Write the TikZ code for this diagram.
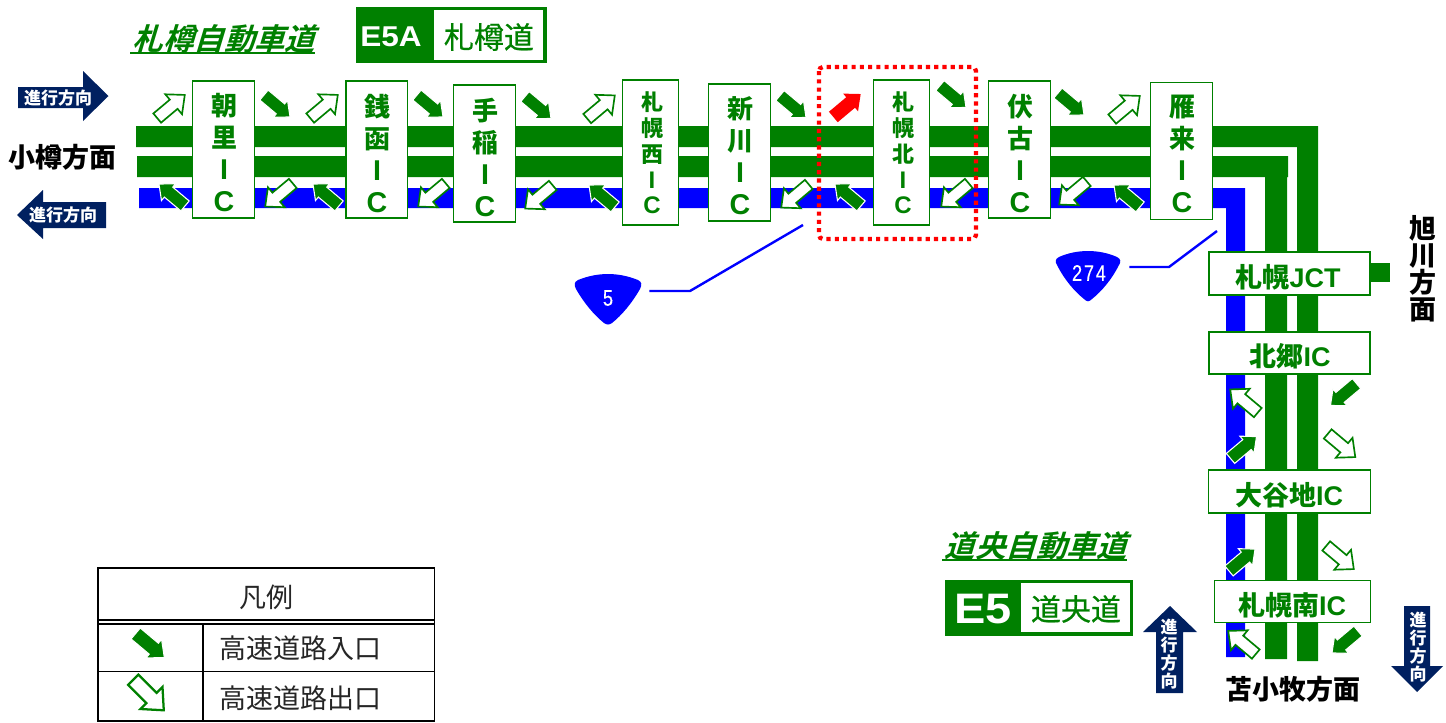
\documentclass[tikz,border=0pt]{standalone}
\usepackage{fontspec}
\usepackage{xcolor}
\setmainfont{Noto Sans CJK JP}
\newfontfamily\lsans{Liberation Sans}
\newfontface\lwide[FakeStretch=1.1]{Liberation Sans Bold}
\newfontface\lnarrow[FakeStretch=0.8,LetterSpace=8,FakeBold=0.3]{Liberation Sans}
\newfontface\jpslant[FakeSlant=0.3]{Noto Sans CJK JP Bold}
\newfontface\jpmed[FakeBold=0.5]{Noto Sans CJK JP}
\definecolor{roadg}{HTML}{008000}
\definecolor{roadb}{HTML}{0000FF}
\definecolor{navy}{HTML}{002060}
\newcommand{\icl}[1]{{\lsans\bfseries\fontsize{21.5}{24}\selectfont #1}}
\newcommand{\ics}[1]{{\lsans\bfseries\fontsize{18}{19.3}\selectfont #1}}
\newcommand{\ich}[1]{{\lsans\bfseries #1}}
\tikzset{
  icbox/.style={draw=roadg,fill=white,line width=1pt,inner sep=0pt},
  ictext/.style={text=roadg,align=center,inner sep=0pt,font=\bfseries\fontsize{19.5}{24}\selectfont},
  ictexts/.style={text=roadg,align=center,inner sep=0pt,font=\bfseries\fontsize{16.5}{19.3}\selectfont},
  ictexth/.style={text=roadg,inner sep=0pt,font=\bfseries\fontsize{20.25}{24}\selectfont},
  placetext/.style={text=black,align=center,inner sep=0pt,font=\bfseries\fontsize{20.25}{20.25}\selectfont},
  dirtext/.style={text=white,align=center,inner sep=0pt,font=\bfseries\fontsize{12.75}{13.5}\selectfont},
  titletext/.style={text=roadg,inner sep=0pt,font=\jpslant\fontsize{22.8}{24}\selectfont},
  signtext/.style={text=roadg,inner sep=0pt,font=\jpmed\fontsize{22.5}{24}\selectfont},
  legendtext/.style={text=black!85,inner sep=0pt,font=\fontsize{20.25}{24}\selectfont},
  routetext/.style={text=white,inner sep=0pt,font=\lnarrow\fontsize{17}{20}\selectfont},
  leader/.style={draw=roadb,line width=1.8pt},
  inarrow/.style={fill=roadg,draw=white,line width=0.8pt},
  outarrow/.style={fill=white,draw=roadg,line width=1.25pt},
  redarrow/.style={fill=red},
  pics/inshape/.style={code={
    \path[pic actions] (-17,-6.5) -- (4.5,-6.5) -- (4.5,-11) -- (17,0) -- (4.5,11) -- (4.5,6.5) -- (-17,6.5) -- cycle;
  }},
  pics/outshape/.style={code={
    \path[pic actions] (-18,-6) -- (3.5,-6) -- (3.5,-13) -- (18,0) -- (3.5,13) -- (3.5,6) -- (-18,6) -- cycle;
  }}
}
\begin{document}
\begin{tikzpicture}[x=0.75pt,y=0.75pt,yscale=-1,xscale=1]
\useasboundingbox (0,0) rectangle (1446,722);

\fill[roadg] (136,126) -- (1318,126) -- (1318,661) -- (1297,661) -- (1297,147) -- (136,147) -- cycle;
\fill[roadg] (137,156) -- (1288,156) -- (1288,177) -- (1287,177) -- (1287,659) -- (1265,659) -- (1265,177) -- (137,177) -- cycle;
\fill[roadb] (139,188) -- (1245,188) -- (1245,657) -- (1226,657) -- (1226,208) -- (139,208) -- cycle;
\fill[roadg] (1370,263) rectangle (1390,282);

\foreach \nm/\cx/\cy/\w/\h/\tx/\ty/\txt in {
  asari/223.5/149.5/62/137/224/153/{朝\\里\\\icl{I}\\\icl{C}},
  zenibako/376.75/149.5/61.5/137/377/153/{銭\\函\\\icl{I}\\\icl{C}},
  teine/484.5/153.5/62.5/137/485/157/{手\\稲\\\icl{I}\\\icl{C}},
  shinkawa/739.5/152.5/62/137/740/156/{新\\川\\\icl{I}\\\icl{C}},
  fushiko/1019.5/149.5/61.5/137/1020/153/{伏\\古\\\icl{I}\\\icl{C}},
  kariki/1181.5/151/61.5/136.5/1182/154/{雁\\来\\\icl{I}\\\icl{C}}}{
  \node[icbox,minimum width=\w*0.75pt,minimum height=\h*0.75pt] (\nm) at (\cx,\cy) {};
  \node[ictext] (\nm txt) at (\tx,\ty) {\txt};
}
\foreach \nm/\cx/\cy/\w/\h/\tx/\ty/\txt in {
  nishi/650.75/152.5/56/145/652/153/{札\\幌\\西\\\ics{I}\\\ics{C}},
  kita/901.25/152.5/56/145/903/153/{札\\幌\\北\\\ics{I}\\\ics{C}}}{
  \node[icbox,minimum width=\w*0.75pt,minimum height=\h*0.75pt] (\nm) at (\cx,\cy) {};
  \node[ictexts] (\nm txt) at (\tx,\ty) {\txt};
}
\foreach \nm/\cx/\cy/\w/\h/\tx/\ty/\txt in {
  sapporojct/1289.5/273.5/161/43/1288/277/{札幌\ich{JCT}},
  hokkyo/1289.5/353/161/42/1290/356/{北郷\ich{IC}},
  oyachi/1289.75/491.5/162/43/1289/495/{大谷地\ich{IC}},
  minami/1292.75/601.5/156/42/1292/605/{札幌南\ich{IC}}}{
  \node[icbox,minimum width=\w*0.75pt,minimum height=\h*0.75pt] (\nm) at (\cx,\cy) {};
  \node[ictexth] (\nm txt) at (\tx,\ty) {\txt};
}

\foreach \px/\py in {277/106,430/106,538/107.5,793/106.5,953/96.5,1071/104}
  \pic[inarrow,rotate=-40] at (\px,\py) {inshape};
\foreach \px/\py in {172/195,326/195,602/196,848/195,1127/196}
  \pic[inarrow,rotate=140] at (\px,\py) {inshape};
\foreach \px/\py in {1243.5/447.5,1242/560}
  \pic[inarrow,rotate=40] at (\px,\py) {inshape};
\foreach \px/\py in {1343.5/394.5,1345/642}
  \pic[inarrow,rotate=220] at (\px,\py) {inshape};
\foreach \px/\py in {171/106.5,324/106.5,601/107,1126/107.5}
  \pic[outarrow,rotate=40] at (\px,\py) {outshape};
\foreach \px/\py in {279/195,432/195,539/197,795/196,955/195,1073/193}
  \pic[outarrow,rotate=220] at (\px,\py) {outshape};
\foreach \px/\py in {1244/401,1242/642.5}
  \pic[outarrow,rotate=140] at (\px,\py) {outshape};
\foreach \px/\py in {1341.5/445.5,1340/557.5}
  \pic[outarrow,rotate=-40] at (\px,\py) {outshape};
\pic[redarrow,rotate=40,scale=1.05] at (847,105.5) {inshape};

\draw[red,line width=3.2pt,dash pattern=on 3.1pt off 3.1pt,rounded corners=3pt] (819,67) rectangle (976,239);

\fill[navy] (18,87) -- (83,87) -- (83,71) -- (108.5,96) -- (83,121) -- (83,108) -- (18,108) -- cycle;
\fill[navy] (106,202) -- (43,202) -- (43,190) -- (17,215) -- (43,239) -- (43,228) -- (106,228) -- cycle;
\fill[navy] (1156,693) -- (1156,632) -- (1143,632) -- (1170,606) -- (1197,632) -- (1183,632) -- (1183,693) -- cycle;
\fill[navy] (1404,606) -- (1404,666) -- (1391,666) -- (1417,692) -- (1443,666) -- (1430,666) -- (1430,606) -- cycle;
\node[dirtext] (dirright) at (58,98) {進行方向};
\node[dirtext] (dirleft) at (63,215) {進行方向};
\node[dirtext] (dirup) at (1169,654) {進\\行\\方\\向};
\node[dirtext] (dirdown) at (1418,647) {進\\行\\方\\向};

\node[placetext] (otaru) at (62,157) {小樽方面};
\node[placetext] (asahikawa) at (1423,269) {旭\\川\\方\\面};
\node[placetext] (tomakomai) at (1293,689.5) {苫小牧方面};

\node[titletext] (sasson) at (224,39) {札樽自動車道};
\draw[roadg,line width=1.5pt] (130,52.5) -- (315,52.5);
\node[titletext] (doou) at (1036,546) {道央自動車道};
\draw[roadg,line width=1.5pt] (942,559.5) -- (1127,559.5);

\fill[roadg] (356,7) rectangle (547,63);
\fill[white] (434,10) rectangle (543,60);
\node[text=white,inner sep=0pt,font=\lwide\fontsize{21.5}{24}\selectfont] (e5a) at (391,37) {E5A};
\node[signtext] (ssign) at (489,37) {札樽道};
\fill[roadg] (945,580) rectangle (1133,636);
\fill[white] (1021,583) rectangle (1130,632);
\node[text=white,inner sep=0pt,font=\lwide\fontsize{32}{36}\selectfont] (e5) at (983,609) {E5};
\node[signtext] (dsign) at (1076,609) {道央道};

\fill[roadb] (578,280) .. controls (598,272) and (618,272) .. (638,280) .. controls (642,282) and (642,285) .. (640,289) .. controls (632,303) and (622,315) .. (612,323) .. controls (609,325) and (607,325) .. (604,323) .. controls (594,315) and (584,303) .. (576,289) .. controls (574,285) and (574,282) .. (578,280) -- cycle;
\node[routetext,minimum width=82*0.75pt] (rt5) at (608,298) {5};
\coordinate (rt5bend) at (690,291);
\coordinate (rt5end) at (803,225);
\draw[leader] (rt5.east |- rt5bend) -- (rt5bend) -- (rt5end);

\fill[roadb] (1059,257) .. controls (1077,249) and (1099,249) .. (1117,257) .. controls (1121,259) and (1121,262) .. (1119,265) .. controls (1112,279) and (1102,291) .. (1092,299) .. controls (1089,302) and (1087,302) .. (1084,299) .. controls (1074,291) and (1064,279) .. (1057,265) .. controls (1055,262) and (1055,259) .. (1059,257) -- cycle;
\node[routetext,minimum width=80*0.75pt] (rt274) at (1089,273) {274};
\coordinate (rt274bend) at (1169,267);
\coordinate (rt274end) at (1217,231);
\draw[leader] (rt274.east |- rt274bend) -- (rt274bend) -- (rt274end);

\draw[black,line width=1.1pt] (98,568) rectangle (434.5,721);
\draw[black,line width=1.1pt] (98,620) -- (434.5,620);
\draw[black,line width=1.1pt] (98,624) -- (434.5,624);
\draw[black,line width=1.1pt] (98,671.5) -- (434.5,671.5);
\draw[black,line width=1.1pt] (203,624) -- (203,721);
\node[legendtext] (legendhead) at (266,597) {凡例};
\node[legendtext,anchor=west] (legendin) at (219,648) {高速道路入口};
\node[legendtext,anchor=west] (legendout) at (219,698) {高速道路出口};
\pic[inarrow,rotate=-40,scale=1.1] at (150,645.5) {inshape};
\pic[outarrow,rotate=-45,scale=1.2,line width=1.7pt] at (148.5,695) {outshape};
\end{tikzpicture}
\end{document}
